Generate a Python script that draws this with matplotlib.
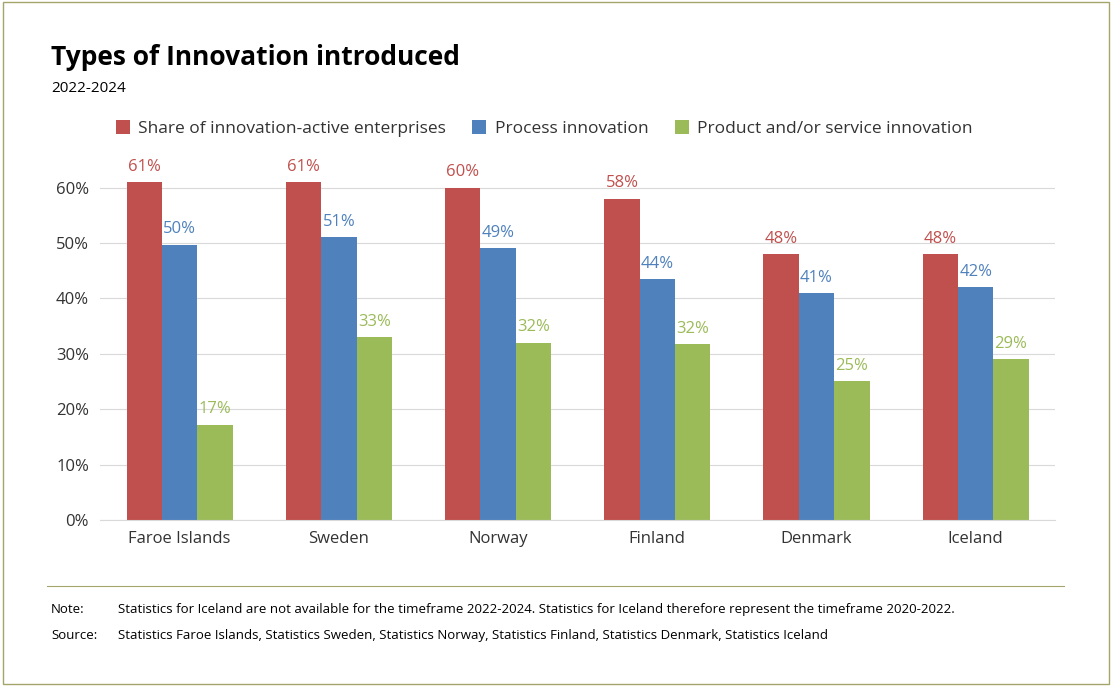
import matplotlib.pyplot as plt
import numpy as np
from matplotlib.patches import Rectangle
from matplotlib.lines import Line2D

plt.rcParams['font.family'] = ['Open Sans', 'DejaVu Sans']

countries = ["Faroe Islands", "Sweden", "Norway", "Finland", "Denmark", "Iceland"]
share_active = [61, 61, 60, 58, 48, 48]
process = [49.7, 51, 49, 43.5, 41, 42]
product = [17.2, 33, 32, 31.7, 25, 29]
series_names = ["Share of innovation-active enterprises", "Process innovation",
                "Product and/or service innovation"]
colors = ["#C0504D", "#4F81BD", "#9BBB59"]

fig = plt.figure(figsize=(11.12, 6.86), dpi=100)
fig.patches.append(Rectangle((0.003, 0.003), 0.994, 0.994, transform=fig.transFigure,
                             fill=False, edgecolor="#A5A56B", linewidth=1))
ax = fig.add_axes([0.09, 0.242, 0.859, 0.525])

x = np.arange(len(countries))
w = 0.222
for i, (vals, col) in enumerate(zip([share_active, process, product], colors)):
    pos = x + (i - 1) * w
    ax.bar(pos, vals, w, color=col, label=series_names[i], zorder=2)
    for p, v in zip(pos, vals):
        ax.text(p, v + 1.3, "%d%%" % round(v), ha="center", va="bottom",
                color=col, fontsize=12)

ax.set_ylim(0, 65)
ax.set_xlim(-0.5, len(countries) - 0.5)
ax.set_yticks(range(0, 61, 10))
ax.set_yticklabels(["%d%%" % t for t in range(0, 61, 10)], fontsize=12, color="#333333")
ax.set_xticks(x)
ax.set_xticklabels(countries, fontsize=12, color="#333333")
ax.grid(axis="y", color="#D9D9D9", linewidth=0.8, zorder=0)
for s in ["top", "right", "left"]:
    ax.spines[s].set_visible(False)
ax.spines["bottom"].set_color("#D9D9D9")
ax.tick_params(length=0, pad=8)

fig.text(0.046, 0.905, "Types of Innovation introduced", fontsize=19, fontweight="bold")
fig.text(0.046, 0.866, "2022-2024", fontsize=11)
ax.legend(loc="lower left", bbox_to_anchor=(0.05 - 0.09 / 0.859 + 0.055, 1.02), ncol=3,
          frameon=False, fontsize=12.5, handlelength=0.8, handleheight=0.8,
          columnspacing=1.5, handletextpad=0.5, labelcolor="#333333")

fig.add_artist(Line2D([0.042, 0.957], [0.146, 0.146], color="#A5A56B", linewidth=0.8))
fig.text(0.046, 0.107, "Note:", fontsize=9.5)
fig.text(0.106, 0.107, "Statistics for Iceland are not available for the timeframe 2022-2024. "
         "Statistics for Iceland therefore represent the timeframe 2020-2022.", fontsize=9.5)
fig.text(0.046, 0.068, "Source:", fontsize=9.5)
fig.text(0.106, 0.068, "Statistics Faroe Islands, Statistics Sweden, Statistics Norway, "
         "Statistics Finland, Statistics Denmark, Statistics Iceland", fontsize=9.5)

fig.savefig("out.png", dpi=100)
